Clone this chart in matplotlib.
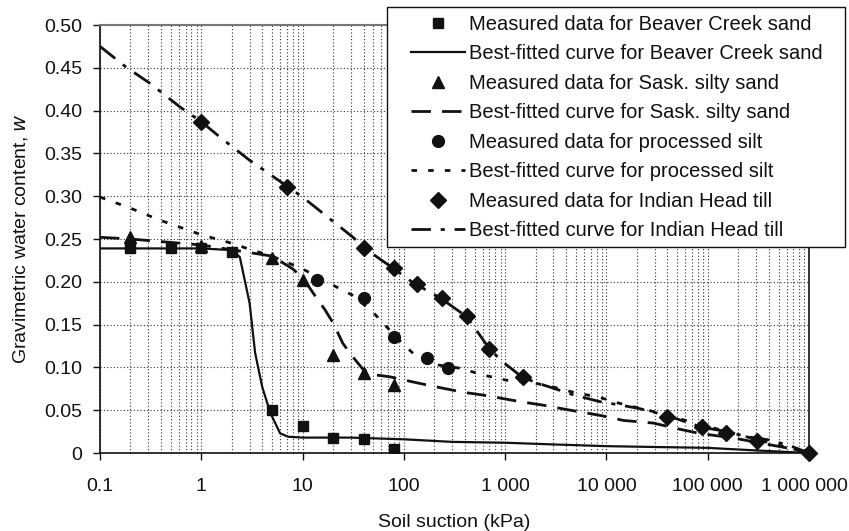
import matplotlib
matplotlib.use("Agg")
import matplotlib.pyplot as plt
from matplotlib.patches import Rectangle
from matplotlib.transforms import ScaledTranslation
from matplotlib.ticker import FixedLocator, FixedFormatter, LogLocator, NullFormatter

plt.rcParams['font.family'] = ['Liberation Sans', 'DejaVu Sans']

# Measured data
beaver_x = [0.2, 0.5, 1, 2, 5, 10, 20, 40, 80]
beaver_y = [0.240, 0.240, 0.240, 0.235, 0.050, 0.031, 0.017, 0.016, 0.005]

sask_x = [0.2, 1, 5, 10, 20, 40, 80]
sask_y = [0.252, 0.242, 0.228, 0.202, 0.114, 0.093, 0.079]

silt_x = [14, 40, 80, 170, 275]
silt_y = [0.202, 0.181, 0.135, 0.111, 0.099]

till_x = [1, 7, 40, 80, 135, 240, 420, 700, 1500, 40000, 87000, 150000, 310000, 1000000]
till_y = [0.387, 0.311, 0.239, 0.216, 0.197, 0.181, 0.160, 0.122, 0.089, 0.042, 0.030,
          0.023, 0.014, 0.0]

# Best-fitted curves
beaver_fit_x = [0.1, 0.5, 1, 2, 2.4, 3, 3.4, 4, 4.8, 6, 7.2, 10, 30, 100, 300, 1000, 3000,
                1e4, 3e4, 1e5, 3e5, 1e6]
beaver_fit_y = [0.239, 0.239, 0.239, 0.237, 0.229, 0.175, 0.117, 0.077, 0.047, 0.023, 0.019,
                0.018, 0.018, 0.016, 0.013, 0.012, 0.010, 0.008, 0.007, 0.006, 0.003, 0.0]

sask_fit_x = [0.1, 0.2, 1, 5, 8, 10, 12.7, 16.7, 20, 25, 31.5, 40, 54, 73, 123, 194, 385, 660,
              1400, 2340, 4400, 8600, 14800, 29000, 52000, 82000, 180000, 320000, 600000, 1e6]
sask_fit_y = [0.252, 0.250, 0.243, 0.230, 0.215, 0.205, 0.187, 0.167, 0.152, 0.128, 0.112,
              0.097, 0.091, 0.089, 0.083, 0.078, 0.071, 0.067, 0.060, 0.056, 0.050, 0.044,
              0.038, 0.035, 0.028, 0.023, 0.0175, 0.012, 0.006, 0.0]

silt_fit_x = [0.1, 0.2, 0.39, 0.72, 1, 2, 3, 5, 10, 14, 20, 31.5, 50, 68, 97, 135, 212, 360,
              610, 1040, 1900, 3000, 4700, 8600, 12500, 30000, 100000, 300000, 1e6]
silt_fit_y = [0.299, 0.286, 0.272, 0.261, 0.255, 0.245, 0.238, 0.230, 0.215, 0.206, 0.196,
              0.184, 0.164, 0.147, 0.128, 0.112, 0.103, 0.099, 0.091, 0.085, 0.082, 0.077,
              0.071, 0.065, 0.059, 0.048, 0.031, 0.016, 0.0]

till_fit_x = [0.1, 0.18, 0.31, 0.62, 1, 1.53, 3, 6.4, 10, 15.9, 31.5, 40, 78, 123, 230, 420,
              660, 890, 1460, 2040, 2770, 4700, 8600, 13700, 21000, 39000, 62000, 88000,
              154000, 245000, 420000, 700000, 1e6]
till_fit_y = [0.475, 0.451, 0.432, 0.404, 0.387, 0.369, 0.342, 0.315, 0.299, 0.280, 0.252,
              0.240, 0.216, 0.199, 0.181, 0.159, 0.126, 0.109, 0.089, 0.082, 0.077, 0.068,
              0.060, 0.056, 0.052, 0.044, 0.036, 0.030, 0.025, 0.019, 0.015, 0.007, 0.0]

x_ticks = [0.1, 1, 10, 100, 1000, 10000, 100000, 1000000]
x_labels = ["0.1", "1", "10", "100", "1 000", "10 000", "100 000", "1 000 000"]
y_ticks = [0, 0.05, 0.10, 0.15, 0.20, 0.25, 0.30, 0.35, 0.40, 0.45, 0.50]
y_labels = ["0", "0.05", "0.10", "0.15", "0.20", "0.25", "0.30", "0.35", "0.40", "0.45", "0.50"]

W, H = 849, 531
fig = plt.figure(figsize=(W / 100, H / 100), dpi=100)
ax = fig.add_axes([100 / W, (H - 453) / H, (809 - 100) / W, (453 - 25) / H])

k = '#111111'
ax.plot(beaver_x, beaver_y, 's', color=k, ms=6.5, ls='none',
        label='Measured data for Beaver Creek sand', zorder=4)
ax.plot(beaver_fit_x, beaver_fit_y, '-', color=k, lw=1.6,
        label='Best-fitted curve for Beaver Creek sand', zorder=3)
ax.plot(sask_x, sask_y, '^', color=k, ms=9, ls='none',
        label='Measured data for Sask. silty sand', zorder=4)
l_sask, = ax.plot(sask_fit_x, sask_fit_y, color=k, lw=2,
                  label='Best-fitted curve for Sask. silty sand', zorder=3)
l_sask.set_dashes([7, 4])
ax.plot(silt_x, silt_y, 'o', color=k, ms=8.5, ls='none',
        label='Measured data for processed silt', zorder=4)
l_silt, = ax.plot(silt_fit_x, silt_fit_y, color=k, lw=2,
                  label='Best-fitted curve for processed silt', zorder=3)
l_silt.set_dashes([2, 4])
ax.plot(till_x, till_y, 'D', color=k, ms=8.5, ls='none', clip_on=False,
        label='Measured data for Indian Head till', zorder=5)
l_till, = ax.plot(till_fit_x, till_fit_y, color=k, lw=2,
                  label='Best-fitted curve for Indian Head till', zorder=3)
l_till.set_dashes([7, 3.5, 1.5, 3.5])

ax.set_xscale('log')
ax.set_xlim(0.1, 1e6)
ax.set_ylim(0, 0.5)

ax.xaxis.set_major_locator(FixedLocator(x_ticks))
ax.xaxis.set_major_formatter(FixedFormatter(x_labels))
ax.xaxis.set_minor_locator(LogLocator(base=10, subs=range(2, 10), numticks=20))
ax.xaxis.set_minor_formatter(NullFormatter())
ax.yaxis.set_major_locator(FixedLocator(y_ticks))
ax.yaxis.set_major_formatter(FixedFormatter(y_labels))

ax.tick_params(axis='both', which='major', direction='out', length=5, width=1,
               labelsize=14, color=k, labelcolor=k)
ax.tick_params(axis='y', which='major', pad=8)
ax.tick_params(axis='x', which='major', pad=13)
ax.tick_params(axis='x', which='minor', length=0)

ax.grid(True, which='major', axis='both', ls=(0, (1, 2)), color='#333333', lw=0.8)
ax.grid(True, which='minor', axis='x', ls=(0, (1, 2)), color='#333333', lw=0.8)
ax.set_axisbelow(True)

for side in ['left', 'bottom', 'right']:
    ax.spines[side].set_color(k)
    ax.spines[side].set_linewidth(1.2)
ax.spines['top'].set_color('#777777')
ax.spines['top'].set_linewidth(1.5)

# keep the widest tick label inside the figure
last = ax.xaxis.get_major_ticks()[-1].label1
last.set_transform(last.get_transform() + ScaledTranslation(-5 / 100, 0, fig.dpi_scale_trans))

ax.set_xlabel('Soil suction (kPa)', fontsize=14, color=k, labelpad=14)
ax.set_ylabel('Gravimetric water content, $\\mathit{w}$', fontsize=14, color=k, labelpad=10)

# legend box drawn as a plain rectangle, entries placed inside it
box = Rectangle((387 / W, 1 - 247 / H), (845 - 387) / W, 240 / H,
                transform=fig.transFigure, facecolor='white', edgecolor=k, lw=1.0, zorder=5)
fig.add_artist(box)

leg = fig.legend(loc='upper left', bbox_to_anchor=(411 / W, 1 - 15 / H),
                 fontsize=14.5, frameon=False, handlelength=2.7, handletextpad=0.2,
                 labelspacing=0.52, borderpad=0, borderaxespad=0)
leg.set_zorder(6)
for t in leg.get_texts():
    t.set_color(k)

fig.savefig('out.png', dpi=100)
